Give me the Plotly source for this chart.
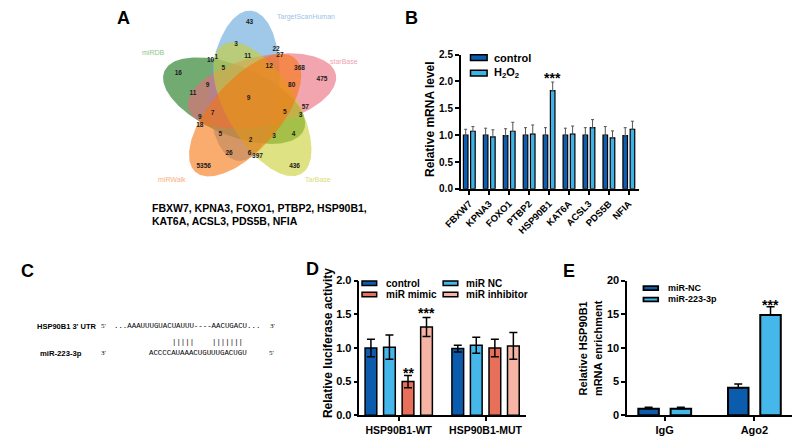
import numpy as np
import plotly.graph_objects as go

W, H = 794, 440
SANS = "Liberation Sans, Arial, sans-serif"
MONO = "Liberation Mono, Courier New, monospace"
SERIF = "Liberation Serif, Times New Roman, serif"

# ------------------------------------------------------------------ data
# Panel A: Venn diagram (5 databases) and the common genes
venn_sets = ["TargetScanHuman", "miRDB", "miRWalk", "TarBase", "starBase"]
venn_counts = [43, 3, 22, 27, 1, 10, 11, 12, 368, 475, 5, 16, 9, 80, 11, 9, 7,
               5, 57, 3, 9, 18, 5, 2, 3, 4, 26, 6, 397, 5356, 436]
common_genes = ["FBXW7", "KPNA3", "FOXO1", "PTBP2", "HSP90B1",
                "KAT6A", "ACSL3", "PDS5B", "NFIA"]

# Panel B: relative mRNA level
b_genes = ["FBXW7", "KPNA3", "FOXO1", "PTBP2", "HSP90B1",
           "KAT6A", "ACSL3", "PDS5B", "NFIA"]
b_control = [1.00, 1.00, 0.99, 1.00, 1.00, 1.00, 1.00, 1.00, 0.99]
b_control_err = [0.11, 0.13, 0.13, 0.14, 0.14, 0.13, 0.14, 0.16, 0.15]
b_h2o2 = [1.07, 0.97, 1.07, 1.02, 1.83, 1.02, 1.14, 0.95, 1.11]
b_h2o2_err = [0.09, 0.13, 0.17, 0.17, 0.16, 0.15, 0.15, 0.13, 0.15]

# Panel C: sequences
c_utr_label = "HSP90B1 3' UTR"
c_utr_seq = "...AAAUUUGUACUAUUU----AACUGACU..."
c_mir_label = "miR-223-3p"
c_mir_seq = "ACCCCAUAAACUGUUUGACUGU"
c_pair1 = "|||||"
c_pair2 = "|||||||"

# Panel D: luciferase activity
d_groups = ["HSP90B1-WT", "HSP90B1-MUT"]
d_control = [1.00, 0.99]
d_control_err = [0.13, 0.05]
d_nc = [1.01, 1.04]
d_nc_err = [0.18, 0.12]
d_mimic = [0.50, 1.00]
d_mimic_err = [0.09, 0.13]
d_inhib = [1.31, 1.03]
d_inhib_err = [0.14, 0.20]

# Panel E: RIP enrichment
e_groups = ["IgG", "Ago2"]
e_nc = [0.97, 4.1]
e_nc_err = [0.20, 0.55]
e_223 = [0.97, 14.9]
e_223_err = [0.20, 1.2]

# ------------------------------------------------------------------ helpers
def px(x):
    return x / W


def py(y):
    return 1 - y / H


fig = go.Figure()
annotations = []
shapes = []


def ann(x, y, text, size, bold=True, color="black", xanchor="center",
        yanchor="middle", family=SANS, angle=0):
    annotations.append(dict(
        x=px(x), y=py(y), xref="paper", yref="paper", text=text,
        showarrow=False, xanchor=xanchor, yanchor=yanchor, textangle=angle,
        font=dict(family=family, size=size, color=color,
                  weight="bold" if bold else "normal")))


# ------------------------------------------------------------------ Panel A (Venn)
C0 = (237.0, 97.0)
blue_c = (231.8, 82.0)
A_AX, B_AX = 77.5, 35.5
BASE_ANG = 85.1
venn_style = {
    "TargetScanHuman": dict(k=0, fill="rgba(97,163,217,0.6)", lab="#9DC3E6"),
    "miRDB": dict(k=1, fill="rgba(20,115,20,0.6)", lab="#8CC68C"),
    "miRWalk": dict(k=2, fill="rgba(247,117,13,0.6)", lab="#F7B07A"),
    "TarBase": dict(k=3, fill="rgba(200,207,47,0.6)", lab="#D9DC78"),
    "starBase": dict(k=4, fill="rgba(233,105,122,0.6)", lab="#F29FAF"),
}
draw_order = ["miRDB", "TargetScanHuman", "starBase", "TarBase", "miRWalk"]
t = np.linspace(0, 2 * np.pi, 240)
dx0, dy0 = blue_c[0] - C0[0], -(blue_c[1] - C0[1])
for name in draw_order:
    st = venn_style[name]
    ang = np.deg2rad(st["k"] * 72)
    cx = C0[0] + dx0 * np.cos(ang) - dy0 * np.sin(ang)
    cy = C0[1] - (dx0 * np.sin(ang) + dy0 * np.cos(ang))
    phi = np.deg2rad(BASE_ANG + st["k"] * 72)
    ex = A_AX * np.cos(t) * np.cos(phi) - B_AX * np.sin(t) * np.sin(phi)
    ey = A_AX * np.cos(t) * np.sin(phi) + B_AX * np.sin(t) * np.cos(phi)
    fig.add_trace(go.Scatter(x=cx + ex, y=cy - ey, mode="lines", fill="toself",
                             fillcolor=st["fill"], line=dict(width=0),
                             hoverinfo="skip", xaxis="x4", yaxis="y4"))

venn_count_pos = [(237, 17), (223, 39), (264, 45), (268, 51), (203, 53), (197, 56),
                  (235, 52), (257, 62), (288, 64), (311, 75), (210, 64), (164, 69),
                  (194, 82), (280, 82), (179, 90), (236, 95), (199, 110), (273, 109),
                  (294, 104), (289, 112), (186, 115), (186, 123), (207, 132),
                  (238, 138), (262, 134), (282, 132), (216, 152), (237, 151),
                  (245, 155), (190, 165), (283, 165)]
fig.add_trace(go.Scatter(
    x=[p[0] for p in venn_count_pos], y=[p[1] for p in venn_count_pos],
    text=[str(v) for v in venn_counts], mode="text",
    textfont=dict(family=SANS, size=6.5, color="#1a1a1a", weight="bold"),
    hoverinfo="skip", xaxis="x4", yaxis="y4"))

venn_label_pos = {"TargetScanHuman": (263, 11, "left"), "miRDB": (138, 48, "center"),
                  "miRWalk": (158, 178, "center"), "TarBase": (307, 178, "center"),
                  "starBase": (334, 57, "center")}
for name in venn_sets:
    x, y, xa = venn_label_pos[name]
    ann(x, y, name, 7, bold=False, color=venn_style[name]["lab"], xanchor=xa)

ann(135, 208, ", ".join(common_genes[:5]) + ",", 10.5, xanchor="left")
ann(135, 221, ", ".join(common_genes[5:]), 10.5, xanchor="left")
ann(108, 12, "A", 18)

# ------------------------------------------------------------------ Panel B
B_W = 0.23
fig.add_trace(go.Bar(
    x=b_genes, y=b_control, width=B_W, offset=-0.181 - B_W / 2,
    marker=dict(color="#0E5DAF", line=dict(color="black", width=1.2)),
    error_y=dict(type="data", array=b_control_err, arrayminus=[0] * len(b_genes),
                 symmetric=False, color="#555555", thickness=1, width=1.5),
    xaxis="x", yaxis="y"))
fig.add_trace(go.Bar(
    x=b_genes, y=b_h2o2, width=B_W, offset=0.181 - B_W / 2,
    marker=dict(color="#3FB2E6", line=dict(color="black", width=1.2)),
    error_y=dict(type="data", array=b_h2o2_err, arrayminus=[0] * len(b_genes),
                 symmetric=False, color="#555555", thickness=1, width=1.5),
    xaxis="x", yaxis="y"))
annotations.append(dict(x=4 + 0.181, y=2.07, xref="x", yref="y", text="***",
                        showarrow=False, font=dict(family=SANS, size=14, color="black",
                                                   weight="bold")))
for i, (lab, col) in enumerate([("control", "#0E5DAF"),
                                 ("H<sub>2</sub>O<sub>2</sub>", "#3FB2E6")]):
    yc = 53 + 16 * i
    shapes.append(dict(type="rect", xref="paper", yref="paper", x0=px(463), x1=px(480),
                       y0=py(yc - 3), y1=py(yc + 3), fillcolor=col,
                       line=dict(color="black", width=1.5)))
    ann(485, yc, lab, 11, xanchor="left")
ann(421.7, 116, "Relative mRNA level", 12, angle=-90)
ann(403, 12, "B", 18)

# ------------------------------------------------------------------ Panel C
ann(10, 272, "C", 18)
ann(17, 329, c_utr_label, 7.5, xanchor="left")
ann(83, 329, "5'", 7, bold=False, family=SERIF, xanchor="left")
ann(96.5, 329, c_utr_seq, 7.4, bold=False, family=MONO, xanchor="left")
ann(256, 329, "3'", 7, bold=False, family=SERIF, xanchor="left")
ann(155.7, 345, c_pair1, 7.4, bold=False, family=MONO, xanchor="left")
ann(196.7, 345, c_pair2, 7.4, bold=False, family=MONO, xanchor="left")
ann(20.5, 357, c_mir_label, 7.7, xanchor="left")
ann(83, 357, "3'", 7, bold=False, family=SERIF, xanchor="left")
ann(131.7, 357, c_mir_seq, 7.4, bold=False, family=MONO, xanchor="left")
ann(255, 357, "5'", 7, bold=False, family=SERIF, xanchor="left")

# ------------------------------------------------------------------ Panel D
D_W = 0.135
d_series = [("control", d_control, d_control_err, "#0B5CAD", -0.32),
            ("miR NC", d_nc, d_nc_err, "#46B7EA", -0.107),
            ("miR mimic", d_mimic, d_mimic_err, "#E8705A", 0.107),
            ("miR inhibitor", d_inhib, d_inhib_err, "#F5B4A4", 0.32)]
for name, vals, errs, col, ctr in d_series:
    fig.add_trace(go.Bar(
        x=d_groups, y=vals, width=D_W, offset=ctr - D_W / 2, name=name,
        marker=dict(color=col, line=dict(color="black", width=1.5)),
        error_y=dict(type="data", array=errs, color="black", thickness=1.5, width=4),
        xaxis="x2", yaxis="y2"))
annotations.append(dict(x=0.107, y=0.63, xref="x2", yref="y2", text="**",
                        showarrow=False, font=dict(family=SANS, size=14, color="black",
                                                   weight="bold")))
annotations.append(dict(x=0.32, y=1.52, xref="x2", yref="y2", text="***",
                        showarrow=False, font=dict(family=SANS, size=14, color="black",
                                                   weight="bold")))
leg_pos = [(352, 374, 285), (435, 456.7, 285), (352, 374, 296.7), (435, 456.7, 296.7)]
for (name, vals, errs, col, ctr), (sx, tx, yc) in zip(d_series, leg_pos):
    shapes.append(dict(type="rect", xref="paper", yref="paper", x0=px(sx), x1=px(sx + 15),
                       y0=py(yc - 2.3), y1=py(yc + 2.3), fillcolor=col,
                       line=dict(color="black", width=1.5)))
    ann(tx, yc, name, 10, xanchor="left")
ann(316.7, 347, "Relative luciferase activity", 12, angle=-90)
ann(301.7, 270, "D", 18)

# ------------------------------------------------------------------ Panel E
E_W = 0.229
e_series = [("miR-NC", e_nc, e_nc_err, "#0B5CAD", -0.18),
            ("miR-223-3p", e_223, e_223_err, "#46B7EA", 0.18)]
for name, vals, errs, col, ctr in e_series:
    fig.add_trace(go.Bar(
        x=e_groups, y=vals, width=E_W, offset=ctr - E_W / 2, name=name,
        marker=dict(color=col, line=dict(color="black", width=2)),
        error_y=dict(type="data", array=errs, arrayminus=[0] * len(e_groups),
                     symmetric=False, color="black", thickness=1.5, width=4),
        xaxis="x3", yaxis="y3"))
annotations.append(dict(x=1.18, y=16.4, xref="x3", yref="y3", text="***",
                        showarrow=False, font=dict(family=SANS, size=14, color="black",
                                                   weight="bold")))
for i, (name, vals, errs, col, ctr) in enumerate(e_series):
    yc = 290 + 11.7 * i
    shapes.append(dict(type="rect", xref="paper", yref="paper", x0=px(640), x1=px(655),
                       y0=py(yc - 2), y1=py(yc + 2), fillcolor=col,
                       line=dict(color="black", width=1.8)))
    ann(663.3, yc, name, 9, xanchor="left")
ann(586, 352, "Relative HSP90B1<br>mRNA enrichment", 11, angle=-90)
ann(563.3, 272, "E", 18)

# ------------------------------------------------------------------ layout
ax_common = dict(showline=True, linecolor="black", linewidth=1.5, ticks="outside",
                 ticklen=4, tickwidth=1.5, tickcolor="black", showgrid=False,
                 zeroline=False, fixedrange=True)


def tf(size):
    return dict(family=SANS, size=size, color="black", weight="bold")


fig.update_layout(
    width=W, height=H, margin=dict(l=0, r=0, t=0, b=0), autosize=False,
    paper_bgcolor="white", plot_bgcolor="rgba(0,0,0,0)", showlegend=False,
    barmode="overlay", font=dict(family=SANS),
    xaxis=dict(domain=[px(453), px(635)], range=[-0.43, 8.49], anchor="y",
               type="category", tickangle=-45, tickfont=tf(9.5), **ax_common),
    yaxis=dict(domain=[py(188), py(50)], range=[0, 2.5], dtick=0.5, tickformat=".1f",
               anchor="x", tickfont=tf(10), **ax_common),
    xaxis2=dict(domain=[px(349.3), px(520)], range=[-0.453, 1.468], anchor="y2",
                type="category", tickfont=tf(10.5), **ax_common),
    yaxis2=dict(domain=[py(420.7), py(282.3)], range=[0, 2], dtick=0.5, tickformat=".1f",
                anchor="x2", tickfont=tf(11), **ax_common),
    xaxis3=dict(domain=[px(623.3), px(792)], range=[-0.419, 1.42], anchor="y3",
                type="category", tickfont=tf(11), **ax_common),
    yaxis3=dict(domain=[py(420.7), py(282.3)], range=[0, 20], dtick=5,
                anchor="x3", tickfont=tf(11), **ax_common),
    xaxis4=dict(domain=[0, 1], range=[0, W], visible=False, anchor="y4", fixedrange=True),
    yaxis4=dict(domain=[0, 1], range=[H, 0], visible=False, anchor="x4", fixedrange=True),
    annotations=annotations, shapes=shapes,
)

fig.write_html("out.html")
